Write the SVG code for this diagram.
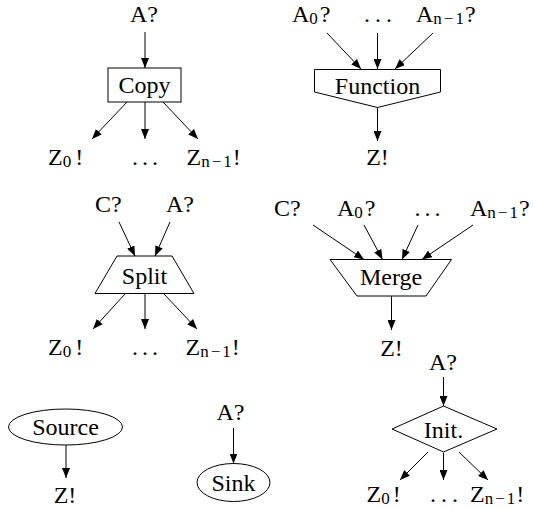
<svg xmlns="http://www.w3.org/2000/svg" width="534" height="509" viewBox="0 0 534 509">
<style>
text { font-family: "Liberation Serif", "Times New Roman", serif; font-size: 24px; fill: #000; }
.c { text-anchor: middle; }
.sub { font-size: 17px; }
.shape { fill: #fff; stroke: #000; stroke-width: 1; }
.edge { fill: none; stroke: #000; stroke-width: 1; marker-end: url(#ah); }
</style>
<defs>
<marker id="ah" markerUnits="userSpaceOnUse" markerWidth="10" markerHeight="8" refX="10" refY="4" orient="auto">
<path d="M0,0 L10,4 L0,8 z" fill="#000"/>
</marker>
</defs>

<g id="connectors">
<line class="edge" x1="145" y1="32" x2="145" y2="68"/>
<line class="edge" x1="127" y1="102" x2="92" y2="139"/>
<line class="edge" x1="145" y1="102" x2="145" y2="139"/>
<line class="edge" x1="163" y1="102" x2="198" y2="139"/>

<line class="edge" x1="327" y1="33" x2="361" y2="69"/>
<line class="edge" x1="377.5" y1="33" x2="377.5" y2="69"/>
<line class="edge" x1="433" y1="33" x2="395" y2="69"/>
<line class="edge" x1="377.5" y1="107.5" x2="377.5" y2="141"/>

<line class="edge" x1="119" y1="222" x2="135" y2="256"/>
<line class="edge" x1="170" y1="222" x2="155" y2="256"/>
<line class="edge" x1="125" y1="294" x2="93" y2="329"/>
<line class="edge" x1="145" y1="294" x2="145" y2="329"/>
<line class="edge" x1="164" y1="294" x2="197" y2="329"/>

<line class="edge" x1="313" y1="225" x2="364" y2="259.5"/>
<line class="edge" x1="364" y1="225" x2="382.5" y2="259.5"/>
<line class="edge" x1="418" y1="225" x2="402" y2="259.5"/>
<line class="edge" x1="473" y1="225" x2="422" y2="259.5"/>
<line class="edge" x1="391.5" y1="296" x2="391.5" y2="330"/>

<line class="edge" x1="66" y1="445" x2="66" y2="478"/>

<line class="edge" x1="233.5" y1="428" x2="233.5" y2="463.5"/>

<line class="edge" x1="443.5" y1="377" x2="443.5" y2="406"/>
<line class="edge" x1="428" y1="452" x2="400" y2="480"/>
<line class="edge" x1="443.5" y1="453" x2="443.5" y2="480"/>
<line class="edge" x1="459" y1="452" x2="488" y2="480"/>
</g>

<g id="copy">
<rect class="shape" x="108" y="68" width="73" height="34"/>
<text class="c" x="144.5" y="93">Copy</text>
<text class="c" x="144" y="22">A?</text>
<text x="48" y="165">Z<tspan class="sub" dy="2">0</tspan><tspan dx="4" dy="-2">!</tspan></text>
<text class="c" x="135 145 155" y="165">...</text>
<text x="186.5" y="165">Z<tspan class="sub" dy="2">n<tspan dx="2">−</tspan><tspan dx="2">1</tspan></tspan><tspan dx="1" dy="-2">!</tspan></text>
</g>

<g id="function">
<polygon class="shape" points="314.5,69.5 440.5,69.5 440.5,92 377.5,107.5 314.5,92"/>
<text class="c" x="377.5" y="94">Function</text>
<text x="292" y="22">A<tspan class="sub" dy="2">0</tspan><tspan dx="2" dy="-2">?</tspan></text>
<text class="c" x="367 378 389" y="22">...</text>
<text x="416" y="22">A<tspan class="sub" dy="2">n<tspan dx="2">−</tspan><tspan dx="2">1</tspan></tspan><tspan dx="1" dy="-2">?</tspan></text>
<text class="c" x="377.5" y="165">Z!</text>
</g>

<g id="split">
<polygon class="shape" points="117,256 172,256 194,293.5 95,293.5"/>
<text class="c" x="144.5" y="284">Split</text>
<text x="95" y="212">C?</text>
<text x="166" y="212">A?</text>
<text x="48" y="355">Z<tspan class="sub" dy="2">0</tspan><tspan dx="4" dy="-2">!</tspan></text>
<text class="c" x="135 145 155" y="355">...</text>
<text x="185.5" y="355">Z<tspan class="sub" dy="2">n<tspan dx="2">−</tspan><tspan dx="2">1</tspan></tspan><tspan dx="1" dy="-2">!</tspan></text>
</g>

<g id="merge">
<polygon class="shape" points="330,259.5 451.5,259.5 426,296 357,296"/>
<text class="c" x="391" y="285">Merge</text>
<text x="274" y="216">C?</text>
<text x="337" y="216">A<tspan class="sub" dy="2">0</tspan><tspan dx="2" dy="-2">?</tspan></text>
<text class="c" x="417.5 427.5 437.5" y="216">...</text>
<text x="470" y="216">A<tspan class="sub" dy="2">n<tspan dx="2">−</tspan><tspan dx="2">1</tspan></tspan><tspan dx="1" dy="-2">?</tspan></text>
<text class="c" x="391.5" y="356">Z!</text>
</g>

<g id="source">
<ellipse class="shape" cx="65.5" cy="427" rx="57" ry="18"/>
<text class="c" x="65.5" y="435">Source</text>
<text class="c" x="65" y="503">Z!</text>
</g>

<g id="sink">
<ellipse class="shape" cx="233.5" cy="482.5" rx="36.5" ry="19"/>
<text class="c" x="233.5" y="491">Sink</text>
<text class="c" x="230.5" y="420">A?</text>
</g>

<g id="init">
<polygon class="shape" points="443.5,406 497,429 443.5,452 392,429"/>
<text class="c" x="443.5" y="437.5">Init.</text>
<text class="c" x="443" y="370">A?</text>
<text x="366.5" y="502">Z<tspan class="sub" dy="2">0</tspan><tspan dx="3" dy="-2">!</tspan></text>
<text class="c" x="433 444 455" y="502">...</text>
<text x="470" y="502">Z<tspan class="sub" dy="2">n<tspan dx="2">−</tspan><tspan dx="2">1</tspan></tspan><tspan dx="1" dy="-2">!</tspan></text>
</g>
</svg>
